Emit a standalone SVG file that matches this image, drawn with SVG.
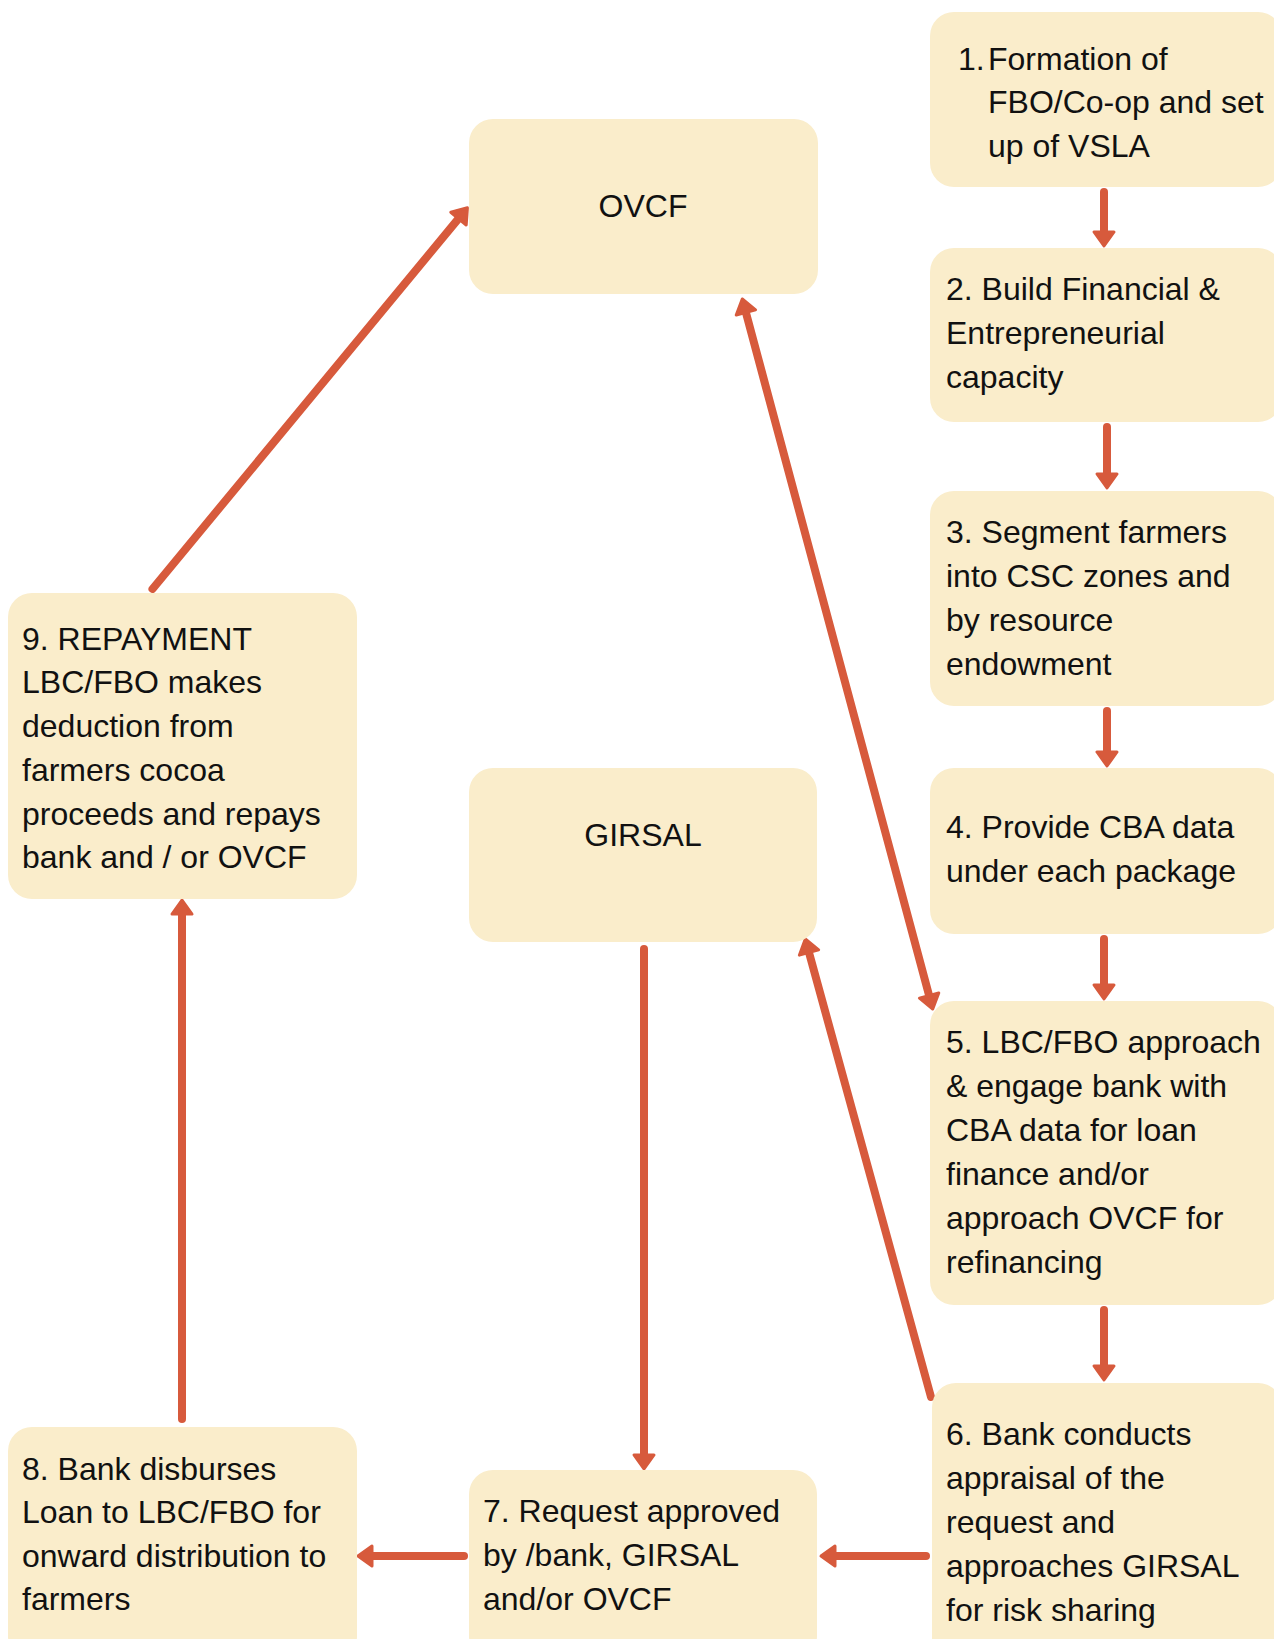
<svg xmlns="http://www.w3.org/2000/svg" width="1274" height="1639" viewBox="0 0 1274 1639">
<style>
.box{fill:#FAEDCB;}
.t{font-family:"Liberation Sans",Arial,sans-serif;font-size:32px;fill:#111111;}
.c{stroke:#D75A3C;stroke-width:8;stroke-linecap:round;fill:none;}
</style>
<defs>
<marker id="ah" markerUnits="userSpaceOnUse" viewBox="-5 -15 30 30" markerWidth="30" markerHeight="30" refX="0" refY="0" orient="auto-start-reverse">
<path d="M0,-10 L14,0 L0,10 Z" fill="#D75A3C" stroke="#D75A3C" stroke-width="3" stroke-linejoin="round"/>
</marker>
</defs>
<rect width="1274" height="1639" fill="#ffffff"/>
<g id="connectors">
<line class="c" x1="1104" y1="192" x2="1104" y2="232" marker-end="url(#ah)"/>
<line class="c" x1="1107" y1="427" x2="1107" y2="474" marker-end="url(#ah)"/>
<line class="c" x1="1107" y1="711" x2="1107" y2="752" marker-end="url(#ah)"/>
<line class="c" x1="1104" y1="939" x2="1104" y2="985" marker-end="url(#ah)"/>
<line class="c" x1="1104" y1="1310" x2="1104" y2="1366" marker-end="url(#ah)"/>
<line class="c" x1="926" y1="1556" x2="835" y2="1556" marker-end="url(#ah)"/>
<line class="c" x1="464" y1="1556" x2="372" y2="1556" marker-end="url(#ah)"/>
<line class="c" x1="182" y1="1419" x2="182" y2="914" marker-end="url(#ah)"/>
<line class="c" x1="644" y1="949" x2="644" y2="1455" marker-end="url(#ah)"/>
<line class="c" x1="152.5" y1="589" x2="458.5" y2="218.6" marker-end="url(#ah)"/>
<line class="c" x1="931" y1="1397" x2="809" y2="952.5" marker-end="url(#ah)"/>
<line class="c" x1="745.9" y1="312.5" x2="929.1" y2="995.5" marker-start="url(#ah)" marker-end="url(#ah)"/>
</g>
<g id="n1">
<rect class="box" x="930" y="12" width="352" height="175" rx="24"/>
<text class="t" x="958" y="70">1.</text>
<text class="t" x="988" y="70">Formation of</text>
<text class="t" x="988" y="113">FBO/Co-op and set</text>
<text class="t" x="988" y="157">up of VSLA</text>
</g>
<g id="n2">
<rect class="box" x="930" y="248" width="352" height="174" rx="24"/>
<text class="t" x="946" y="300">2. Build Financial &amp;</text>
<text class="t" x="946" y="344">Entrepreneurial</text>
<text class="t" x="946" y="388">capacity</text>
</g>
<g id="n3">
<rect class="box" x="930" y="491" width="352" height="215" rx="24"/>
<text class="t" x="946" y="543">3. Segment farmers</text>
<text class="t" x="946" y="587">into CSC zones and</text>
<text class="t" x="946" y="631">by resource</text>
<text class="t" x="946" y="675">endowment</text>
</g>
<g id="n4">
<rect class="box" x="930" y="768" width="352" height="166" rx="24"/>
<text class="t" x="946" y="838">4. Provide CBA data</text>
<text class="t" x="946" y="882">under each package</text>
</g>
<g id="n5">
<rect class="box" x="930" y="1001" width="352" height="304" rx="24"/>
<text class="t" x="946" y="1053">5. LBC/FBO approach</text>
<text class="t" x="946" y="1097">&amp; engage bank with</text>
<text class="t" x="946" y="1141">CBA data for loan</text>
<text class="t" x="946" y="1185">finance and/or</text>
<text class="t" x="946" y="1229">approach OVCF for</text>
<text class="t" x="946" y="1273">refinancing</text>
</g>
<g id="n6">
<rect class="box" x="932" y="1383" width="350" height="280" rx="24"/>
<text class="t" x="946" y="1445">6. Bank conducts</text>
<text class="t" x="946" y="1489">appraisal of the</text>
<text class="t" x="946" y="1533">request and</text>
<text class="t" x="946" y="1577">approaches GIRSAL</text>
<text class="t" x="946" y="1621">for risk sharing</text>
</g>
<g id="n7">
<rect class="box" x="469" y="1470" width="348" height="190" rx="24"/>
<text class="t" x="483" y="1522">7. Request approved</text>
<text class="t" x="483" y="1566">by /bank, GIRSAL</text>
<text class="t" x="483" y="1610">and/or OVCF</text>
</g>
<g id="n8">
<rect class="box" x="8" y="1427" width="349" height="233" rx="24"/>
<text class="t" x="22" y="1480">8. Bank disburses</text>
<text class="t" x="22" y="1523">Loan to LBC/FBO for</text>
<text class="t" x="22" y="1567">onward distribution to</text>
<text class="t" x="22" y="1610">farmers</text>
</g>
<g id="n9">
<rect class="box" x="8" y="593" width="349" height="306" rx="24"/>
<text class="t" x="22" y="650">9. REPAYMENT</text>
<text class="t" x="22" y="693">LBC/FBO makes</text>
<text class="t" x="22" y="737">deduction from</text>
<text class="t" x="22" y="781">farmers cocoa</text>
<text class="t" x="22" y="825">proceeds and repays</text>
<text class="t" x="22" y="868">bank and / or OVCF</text>
</g>
<g id="ovcf">
<rect class="box" x="469" y="119" width="349" height="175" rx="24"/>
<text class="t" x="643" y="217" text-anchor="middle">OVCF</text>
</g>
<g id="girsal">
<rect class="box" x="469" y="768" width="348" height="174" rx="24"/>
<text class="t" x="643" y="846" text-anchor="middle">GIRSAL</text>
</g>
</svg>
